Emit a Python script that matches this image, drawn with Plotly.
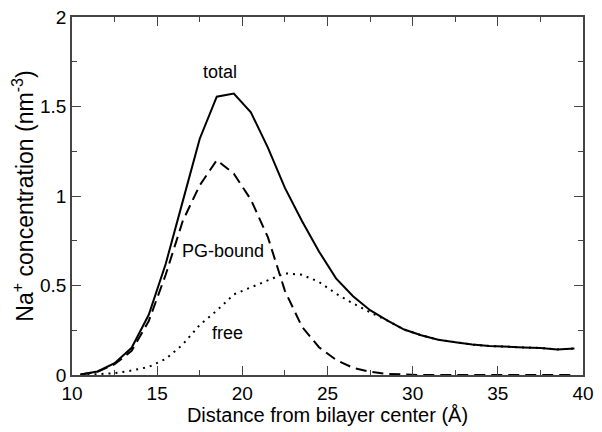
import plotly.graph_objects as go

# distance from bilayer center (Angstrom), bin centres
distance = [10.5, 11.5, 12.5, 13.5, 14.5, 15.5, 16.5, 17.5, 18.5, 19.5,
            20.5, 21.5, 22.5, 23.5, 24.5, 25.5, 26.5, 27.5, 28.5, 29.5,
            30.5, 31.5, 32.5, 33.5, 34.5, 35.5, 36.5, 37.5, 38.5, 39.5]

total = [0.003, 0.02, 0.066, 0.152, 0.335, 0.62, 0.97, 1.32, 1.555, 1.572,
         1.468, 1.27, 1.045, 0.86, 0.69, 0.54, 0.44, 0.362, 0.305, 0.254,
         0.222, 0.197, 0.183, 0.170, 0.162, 0.156, 0.154, 0.151, 0.143, 0.148]

pg_bound = [0.003, 0.018, 0.06, 0.135, 0.3, 0.56, 0.86, 1.06, 1.2, 1.125,
            0.98, 0.77, 0.47, 0.27, 0.155, 0.085, 0.04, 0.018, 0.006, 0.001,
            0.0, 0.0, 0.0, 0.0, 0.0, 0.0, 0.0, 0.0, 0.0, 0.0]

free = [0.0, 0.003, 0.01, 0.025, 0.045, 0.09, 0.17, 0.28, 0.36, 0.45,
        0.49, 0.53, 0.568, 0.56, 0.52, 0.455, 0.4, 0.35, 0.305, 0.254,
        0.222, 0.197, 0.183, 0.170, 0.162, 0.156, 0.154, 0.151, 0.143, 0.148]

labels = ["total", "PG-bound", "free"]
label_x = [18.7, 18.85, 19.1]
label_y = [1.69, 0.69, 0.235]

FONT = "Arial, Liberation Sans, sans-serif"

fig = go.Figure()
fig.add_trace(go.Scatter(x=distance, y=free, mode="lines",
                         line=dict(color="black", width=2, dash="2px,5px")))
fig.add_trace(go.Scatter(x=distance, y=pg_bound, mode="lines",
                         line=dict(color="black", width=2, dash="11px,6px")))
fig.add_trace(go.Scatter(x=distance, y=total, mode="lines",
                         line=dict(color="black", width=2)))

for text, x, y in zip(labels, label_x, label_y):
    fig.add_annotation(x=x, y=y, text=text, showarrow=False,
                       font=dict(size=18, color="black", family=FONT))

axis_common = dict(
    showgrid=False, zeroline=False, showline=True, linecolor="#444",
    linewidth=1.5, mirror="allticks", ticks="inside", ticklen=9,
    tickwidth=1, tickcolor="#444", automargin=False,
    ticklabeloverflow="allow",
    tickfont=dict(size=19, color="black", family=FONT),
)

fig.update_xaxes(
    range=[10, 40], tick0=10, dtick=5,
    minor=dict(dtick=2.5, ticks="inside", ticklen=5, tickcolor="#444"),
    title=dict(text="Distance from bilayer center (Å)", standoff=2,
               font=dict(size=20, color="black", family=FONT)),
    **axis_common,
)
fig.update_yaxes(
    range=[0, 2], tick0=0, dtick=0.5, tickformat="~g",
    minor=dict(dtick=0.25, ticks="inside", ticklen=5, tickcolor="#444"),
    title=dict(text="Na<sup>+</sup> concentration (nm<sup>-3</sup>)", standoff=6,
               font=dict(size=23, color="black", family=FONT)),
    **axis_common,
)

# the page body adds 8px, margins are set so the frame lands where the reference has it
fig.update_layout(
    width=602, height=432,
    margin=dict(l=64, r=27, t=9, b=65),
    plot_bgcolor="white", paper_bgcolor="white",
    showlegend=False,
)

fig.write_html("out.html")
